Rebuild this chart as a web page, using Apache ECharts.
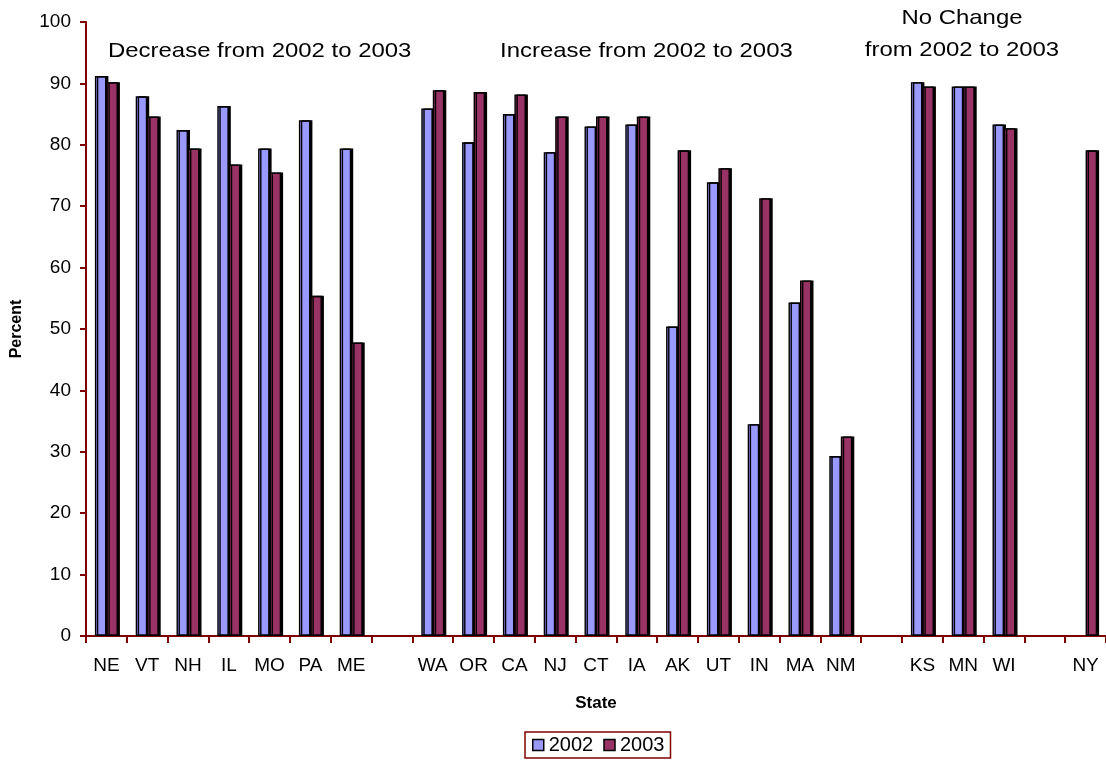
<!DOCTYPE html>
<html>
<head>
<meta charset="utf-8">
<script src="https://cdn.jsdelivr.net/npm/echarts@6/dist/echarts.min.js"></script>
<style>
  html, body { margin: 0; padding: 0; background: #fff; }
  #chart { width: 1106px; height: 760px; }
</style>
</head>
<body>
<div id="chart"></div>
<script>
// States grouped by change in rate; empty strings are spacer slots between groups
const states = ['NE', 'VT', 'NH', 'IL', 'MO', 'PA', 'ME', '',
  'WA', 'OR', 'CA', 'NJ', 'CT', 'IA', 'AK', 'UT', 'IN', 'MA', 'NM', '',
  'KS', 'MN', 'WI', '', 'NY'];

const values2002 = [91.2, 87.9, 82.4, 86.3, 79.4, 84.0, 79.4, null,
  85.9, 80.4, 85.0, 78.8, 83.0, 83.3, 50.4, 73.9, 34.5, 54.3, 29.3, null,
  90.2, 89.5, 83.3, null, null];

const values2003 = [90.2, 84.6, 79.4, 76.8, 75.5, 55.4, 47.8, null,
  88.9, 88.6, 88.2, 84.6, 84.6, 84.6, 79.1, 76.2, 71.3, 57.9, 32.5, null,
  89.5, 89.5, 82.7, null, 79.1];

const yTicks = [0, 10, 20, 30, 40, 50, 60, 70, 80, 90, 100];

const axisRed = '#800000';
const fontFamily = '"Liberation Sans", Arial, sans-serif';

// Flat bars with a thin black outline and a hard drop shadow on the right
const barStyle = (fill) => ({
  color: fill,
  borderColor: '#000',
  borderWidth: 1.4,
  shadowColor: '#000',
  shadowBlur: 0,
  shadowOffsetX: 2,
  shadowOffsetY: 0
});

const chart = echarts.init(document.getElementById('chart'), null, { renderer: 'canvas' });

chart.setOption({
  animation: false,
  textStyle: { fontFamily: fontFamily, color: '#000' },
  // plot runs slightly past the right edge of the canvas
  grid: { left: 86, width: 1028, top: 22, bottom: 124, containLabel: false },
  legend: {
    bottom: 2,
    left: 525,
    icon: 'rect',
    itemWidth: 11,
    itemHeight: 11,
    itemGap: 10,
    padding: [3, 6, 3, 7],
    borderColor: axisRed,
    borderWidth: 1.5,
    textStyle: { fontSize: 20, fontFamily: fontFamily, color: '#000' },
    data: [
      { name: '2002', itemStyle: { color: '#9999FF', borderColor: '#000', borderWidth: 1.5 } },
      { name: '2003', itemStyle: { color: '#993366', borderColor: '#000', borderWidth: 1.5 } }
    ]
  },
  xAxis: {
    type: 'category',
    data: states,
    name: 'State',
    nameLocation: 'middle',
    nameGap: 59,
    nameTextStyle: { fontSize: 17, fontWeight: 'bold', color: '#000' },
    axisLine: { lineStyle: { color: axisRed, width: 2 } },
    axisTick: { show: true, length: 7, lineStyle: { color: axisRed, width: 2 }, alignWithLabel: false, interval: 0 },
    axisLabel: { interval: 0, fontSize: 19, color: '#000', margin: 20 }
  },
  yAxis: {
    type: 'value',
    min: yTicks[0],
    max: yTicks[yTicks.length - 1],
    interval: 10,
    name: 'Percent',
    nameLocation: 'middle',
    nameRotate: 90,
    nameGap: 61,
    nameTextStyle: { fontSize: 16, fontWeight: 'bold', color: '#000' },
    splitLine: { show: false },
    axisLine: { show: true, lineStyle: { color: axisRed, width: 2 } },
    axisTick: { show: true, length: 6, lineStyle: { color: axisRed, width: 2 } },
    axisLabel: { fontSize: 19, color: '#000', margin: 15 }
  },
  series: [
    {
      name: '2002',
      type: 'bar',
      data: values2002,
      barGap: '0%',
      barWidth: 11.5,
      itemStyle: barStyle('#9999FF')
    },
    {
      name: '2003',
      type: 'bar',
      data: values2003,
      barWidth: 11.5,
      itemStyle: barStyle('#993366')
    }
  ],
  graphic: [
    {
      type: 'text', x: 108, y: 41, scaleX: 1.14,
      style: { text: 'Decrease from 2002 to 2003', font: '21px ' + fontFamily, fill: '#000' }
    },
    {
      type: 'text', x: 500, y: 41, scaleX: 1.14,
      style: { text: 'Increase from 2002 to 2003', font: '21px ' + fontFamily, fill: '#000' }
    },
    {
      type: 'text', x: 962, y: 2, scaleX: 1.14,
      style: { text: 'No Change\nfrom 2002 to 2003', font: '21px ' + fontFamily, fill: '#000', align: 'center', lineHeight: 32 }
    }
  ]
});
</script>
</body>
</html>
